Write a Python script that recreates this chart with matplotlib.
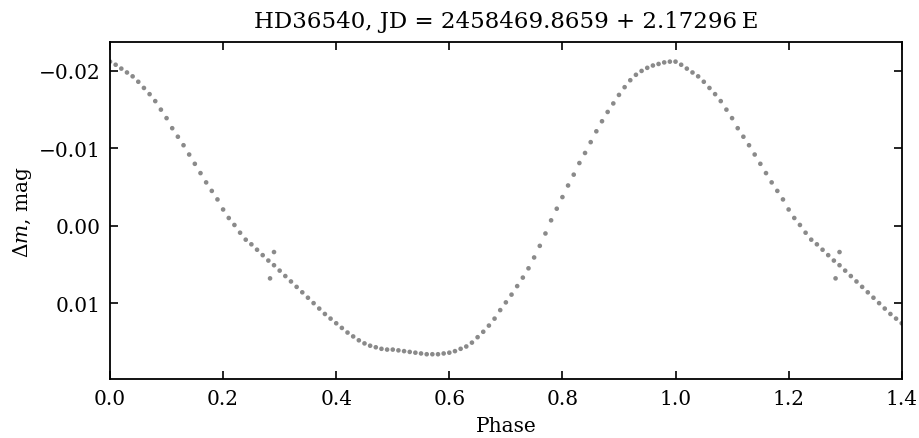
import numpy as np
import matplotlib
matplotlib.use('Agg')
import matplotlib.pyplot as plt

plt.rcParams['font.family'] = ['DejaVu Serif']
plt.rcParams['mathtext.fontset'] = 'dejavuserif'

# light curve, one value per 0.01 in phase (0.00 .. 0.99)
phase = np.round(np.arange(0, 100) * 0.01, 2)
dmag = [
    -0.0212, -0.0208, -0.0203, -0.0198, -0.0193, -0.0186, -0.0178, -0.0170, -0.0161, -0.0150,
    -0.0139, -0.0126, -0.0115, -0.0104, -0.0092, -0.0080, -0.0068, -0.0056, -0.0045, -0.0034,
    -0.0021, -0.0010, -0.0001, 0.0009, 0.0018, 0.0024, 0.0031, 0.0038, 0.0045, 0.0051,
    0.0058, 0.0065, 0.0072, 0.0079, 0.0086, 0.0093, 0.0100, 0.0107, 0.0114, 0.0120,
    0.0126, 0.0132, 0.0138, 0.0143, 0.0148, 0.0152, 0.0155, 0.0157, 0.0159, 0.0160,
    0.0160, 0.0161, 0.0162, 0.0163, 0.0164, 0.0165, 0.0166, 0.0166, 0.0166, 0.0165,
    0.0164, 0.0162, 0.0159, 0.0156, 0.0151, 0.0144, 0.0137, 0.0129, 0.0120, 0.0109,
    0.0099, 0.0089, 0.0078, 0.0067, 0.0055, 0.0041, 0.0026, 0.0010, -0.0007, -0.0022,
    -0.0037, -0.0052, -0.0066, -0.0081, -0.0094, -0.0108, -0.0122, -0.0135, -0.0147, -0.0158,
    -0.0169, -0.0179, -0.0188, -0.0195, -0.0200, -0.0204, -0.0207, -0.0209, -0.0211, -0.0212,
]
# two stray points near phase 0.29
out_phase = [0.283, 0.290]
out_dmag = [0.0068, 0.0034]

ph = np.concatenate([phase, out_phase])
dm = np.concatenate([dmag, out_dmag])
# repeat the cycle so the plot runs to phase 1.4
keep = ph + 1 <= 1.4
ph_all = np.concatenate([ph, ph[keep] + 1])
dm_all = np.concatenate([dm, dm[keep]])

fig = plt.figure(figsize=(9.19, 4.39), dpi=100)
ax = fig.add_axes([0.1197, 0.1344, 0.8615, 0.767])
ax.scatter(ph_all, dm_all, s=11, color='#8a8a8a', edgecolors='none')

ax.set_xlim(0, 1.4)
ax.set_ylim(0.0198, -0.0237)
ax.set_xticks([0.0, 0.2, 0.4, 0.6, 0.8, 1.0, 1.2, 1.4])
ax.set_yticks([-0.02, -0.01, 0.0, 0.01])
ax.set_yticklabels(['\u22120.02', '\u22120.01', '0.00', '0.01'])
ax.tick_params(direction='in', top=True, right=True, length=6, width=1.2, labelsize=14.5, pad=7)
for s in ax.spines.values():
    s.set_linewidth(1.3)

ax.set_xlabel('Phase', fontsize=14.5, labelpad=6)
ax.set_ylabel(r'$\Delta m$, mag', fontsize=14.5, labelpad=3)
ax.set_title('HD36540, JD = 2458469.8659 + 2.17296\u2009E', fontsize=16.5, pad=11)

fig.savefig('out.png', dpi=100)
